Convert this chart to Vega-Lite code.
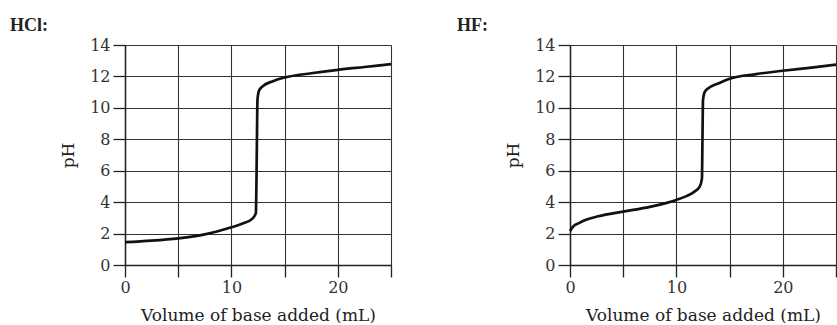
{
  "$schema": "https://vega.github.io/schema/vega-lite/v6.json",
  "background": "white",
  "padding": {"left": 10, "top": 17, "right": 0, "bottom": 0},
  "spacing": 60,
  "config": {
    "view": {"stroke": null},
    "font": "DejaVu Serif",
    "axis": {
      "domainColor": "#222",
      "domainWidth": 1.5,
      "tickColor": "#222",
      "tickWidth": 1.3,
      "tickSize": 12,
      "gridColor": "#333",
      "gridWidth": 1.1,
      "gridOpacity": 1,
      "labelFont": "DejaVu Serif",
      "labelFontSize": 16,
      "labelColor": "#333",
      "labelPadding": 3,
      "labelFlush": false,
      "labelOverlap": false,
      "titleFont": "DejaVu Serif",
      "titleFontSize": 17,
      "titleFontWeight": "normal",
      "titleColor": "#222"
    },
    "axisX": {"labelPadding": 2, "titlePadding": 12},
    "axisY": {"titlePadding": 12},
    "title": {
      "font": "Liberation Serif",
      "fontSize": 18,
      "fontWeight": "bold",
      "color": "#222"
    }
  },
  "datasets": {
    "hcl": [
      {"volume": 0, "pH": 1.45},
      {"volume": 2.5, "pH": 1.55},
      {"volume": 5, "pH": 1.7},
      {"volume": 7.5, "pH": 1.95},
      {"volume": 10, "pH": 2.4},
      {"volume": 11, "pH": 2.62},
      {"volume": 12, "pH": 2.97},
      {"volume": 12.3, "pH": 3.3},
      {"volume": 12.35, "pH": 5},
      {"volume": 12.4, "pH": 8},
      {"volume": 12.45, "pH": 10.5},
      {"volume": 12.6, "pH": 11.1},
      {"volume": 12.9, "pH": 11.35},
      {"volume": 13.9, "pH": 11.7},
      {"volume": 15, "pH": 11.93},
      {"volume": 17.5, "pH": 12.2},
      {"volume": 20, "pH": 12.42},
      {"volume": 22.5, "pH": 12.6},
      {"volume": 25, "pH": 12.78}
    ],
    "hf": [
      {"volume": 0, "pH": 2.17},
      {"volume": 0.3, "pH": 2.45},
      {"volume": 0.8, "pH": 2.65},
      {"volume": 1.5, "pH": 2.88},
      {"volume": 2.65, "pH": 3.1},
      {"volume": 5, "pH": 3.4},
      {"volume": 7.5, "pH": 3.7},
      {"volume": 10, "pH": 4.14},
      {"volume": 11, "pH": 4.4},
      {"volume": 11.7, "pH": 4.67},
      {"volume": 12.2, "pH": 5.0},
      {"volume": 12.4, "pH": 5.5},
      {"volume": 12.45, "pH": 8},
      {"volume": 12.5, "pH": 10.5},
      {"volume": 12.65, "pH": 11.0},
      {"volume": 12.9, "pH": 11.2},
      {"volume": 14, "pH": 11.57},
      {"volume": 15, "pH": 11.85},
      {"volume": 17.5, "pH": 12.15},
      {"volume": 20, "pH": 12.36},
      {"volume": 22.5, "pH": 12.55},
      {"volume": 25, "pH": 12.75}
    ]
  },
  "hconcat": [
    {
      "width": 266,
      "height": 220,
      "title": {"text": "HCl:", "anchor": "start", "frame": "group", "dx": -115, "offset": 2},
      "data": {"name": "hcl"},
      "mark": {"type": "line", "interpolate": "monotone", "color": "#111", "strokeWidth": 2.7},
      "encoding": {
        "x": {"field": "volume", "type": "quantitative", "scale": {"domain": [0, 25], "nice": false},
              "axis": {"title": "Volume of base added (mL)", "values": [0, 5, 10, 15, 20, 25], "labelExpr": "datum.value % 10 === 0 ? datum.label : ''"}},
        "y": {"field": "pH", "type": "quantitative", "scale": {"domain": [0, 14], "nice": false},
              "axis": {"title": "pH", "values": [0, 2, 4, 6, 8, 10, 12, 14]}}
      }
    },
    {
      "width": 266,
      "height": 220,
      "title": {"text": "HF:", "anchor": "start", "frame": "group", "dx": -113, "offset": 2},
      "data": {"name": "hf"},
      "mark": {"type": "line", "interpolate": "monotone", "color": "#111", "strokeWidth": 2.7},
      "encoding": {
        "x": {"field": "volume", "type": "quantitative", "scale": {"domain": [0, 25], "nice": false},
              "axis": {"title": "Volume of base added (mL)", "values": [0, 5, 10, 15, 20, 25], "labelExpr": "datum.value % 10 === 0 ? datum.label : ''"}},
        "y": {"field": "pH", "type": "quantitative", "scale": {"domain": [0, 14], "nice": false},
              "axis": {"title": "pH", "values": [0, 2, 4, 6, 8, 10, 12, 14]}}
      }
    }
  ]
}
